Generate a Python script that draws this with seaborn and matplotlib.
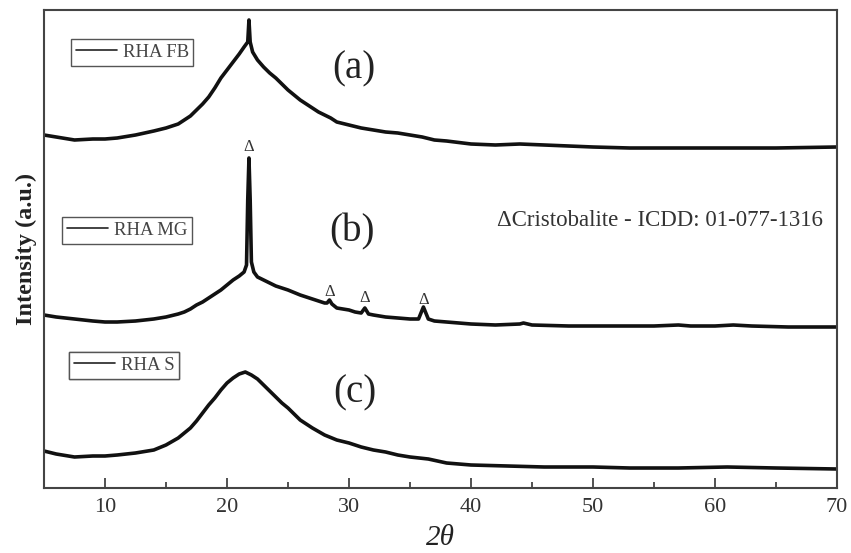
import matplotlib
matplotlib.use("Agg")
import matplotlib.pyplot as plt
import seaborn as sns
import pandas as pd
from matplotlib.lines import Line2D

# ---- data (2-theta, intensity in arbitrary units) ----
a_x = [5, 6, 7.5, 9, 10, 11, 12.5, 14, 15, 16, 16.5, 17, 17.5, 18, 18.5, 19, 19.5, 20, 20.5, 21,
       21.4, 21.7, 21.8, 21.9, 22.1, 22.5, 23, 23.5, 24, 24.5, 25, 25.5, 26, 26.5, 27.5, 28.5, 29,
       30, 31, 32, 33, 34, 35, 36, 37, 38, 40, 42, 44, 46, 48, 50, 53, 56, 60, 65, 70]
a_px = [135, 137, 140, 139, 139, 138, 135, 131, 128, 124, 120, 116, 110, 104, 97, 88, 78, 70, 62, 54,
        47, 42, 20, 42, 52, 60, 67, 73, 78, 84, 90, 95, 100, 104, 112, 118, 122,
        125, 128, 130, 132, 133, 135, 137, 140, 141, 144, 145, 144, 145, 146, 147, 148, 148, 148, 148, 147]

b_x = [5, 6, 7.5, 9, 10, 11, 12.5, 14, 15, 16, 16.5, 17, 17.5, 18, 18.5, 19, 19.5, 20, 20.5, 21,
       21.4, 21.6, 21.7, 21.8, 21.9, 22.0, 22.2, 22.5, 23, 23.5, 24, 25, 26, 26.5, 27, 28, 28.2,
       28.4, 28.6, 29, 30, 30.5, 31, 31.3, 31.6, 32, 33, 34, 35, 35.7, 36.1, 36.5, 37, 38, 40, 42,
       44, 44.3, 45, 48, 50, 52, 55, 57, 58, 60, 61.5, 63, 66, 70]
b_px = [315, 317, 319, 321, 322, 322, 321, 319, 317, 314, 312, 309, 305, 302, 298, 294, 290, 285, 280, 276,
        272, 265, 200, 158, 200, 262, 272, 277, 280, 283, 286, 290, 295, 297, 299, 303, 303,
        300, 304, 308, 310, 312, 313, 308, 314, 315, 317, 318, 319, 319, 307, 319, 321, 322, 324, 325,
        324, 323, 325, 326, 326, 326, 326, 325, 326, 326, 325, 326, 327, 327]

c_x = [5, 6, 7.5, 9, 10, 11, 12.5, 14, 15, 16, 17, 17.5, 18, 18.5, 19, 19.5, 20, 20.5, 21, 21.5,
       22, 22.5, 23, 23.5, 24, 24.5, 25, 25.5, 26, 26.5, 27, 28, 29, 30, 31, 32, 33, 34, 35, 36.5,
       38, 40, 43, 46, 50, 53, 57, 61, 65, 70]
c_px = [451, 454, 457, 456, 456, 455, 453, 450, 445, 438, 428, 421, 413, 405, 398, 390, 383, 378, 374, 372,
        375, 379, 385, 391, 397, 403, 408, 414, 420, 424, 428, 435, 440, 443, 447, 450, 452, 455, 457, 459,
        463, 465, 466, 467, 467, 468, 468, 467, 468, 469]

labels = ["RHA FB", "RHA MG", "RHA S"]
panel_tags = ["(a)", "(b)", "(c)"]
peak_pos = [21.8, 28.4, 31.3, 36.1]
peak_px = [147, 292, 298, 300]
x_ticks = [10, 20, 30, 40, 50, 60, 70]

BASE = 488  # intensity = BASE - pixel row

def to_int(vals):
    return [BASE - v for v in vals]

sns.set_style("ticks")
plt.rcParams['font.family'] = ['Liberation Serif', 'DejaVu Serif']
plt.rcParams['mathtext.fontset'] = 'stix'

W, H = 851, 553
fig = plt.figure(figsize=(W / 100, H / 100), dpi=100)
ax = fig.add_axes([44 / W, 1 - 488 / H, (837 - 44) / W, (488 - 10) / H])

for xs, ys, lab in [(a_x, a_px, labels[0]), (b_x, b_px, labels[1]), (c_x, c_px, labels[2])]:
    df = pd.DataFrame({"two_theta": xs, "intensity": to_int(ys)})
    sns.lineplot(data=df, x="two_theta", y="intensity", ax=ax, color="#111111",
                 linewidth=2.6, sort=False, estimator=None)

ax.set_xlim(5, 70)
ax.set_ylim(0, 478)
ax.set_yticks([])
ax.set_xticks(x_ticks)
ax.set_xticklabels([str(t) for t in x_ticks], fontsize=16, color="#333333")
ax.set_xticks([15, 25, 35, 45, 55, 65], minor=True)
ax.tick_params(axis='x', which='major', direction='in', length=7, width=1.2, color="#333333", pad=7)
ax.tick_params(axis='x', which='minor', direction='in', length=4, width=1.2, color="#333333")
for s in ax.spines.values():
    s.set_visible(True)
    s.set_linewidth(1.5)
    s.set_color("#444444")

ax.set_xlabel("2θ", fontsize=21, style='italic', color="#222222", labelpad=6)
ax.set_ylabel("Intensity (a.u.)", fontsize=17.5, fontweight='bold', color="#222222", labelpad=5)

# legends (one boxed legend per pattern)
leg_pos = [(71, 39), (62, 217), (69, 352)]
for lab, (lx, ly) in zip(labels, leg_pos):
    h = Line2D([], [], color="#222222", linewidth=1.2)
    leg = ax.legend(handles=[h], labels=[lab], loc='upper left',
                    bbox_to_anchor=(lx / W, 1 - ly / H), bbox_transform=fig.transFigure,
                    borderaxespad=0, borderpad=0.25, handlelength=2.2, handletextpad=0.3,
                    fancybox=False, framealpha=1, edgecolor="#555555",
                    prop={'family': 'Liberation Serif', 'size': 13.5})
    leg.get_frame().set_linewidth(1.0)
    for t in leg.get_texts():
        t.set_color("#444444")
    ax.add_artist(leg)

# panel tags
tag_pos = [(354, 69), (352, 232), (355, 393)]
for tag, (tx, ty) in zip(panel_tags, tag_pos):
    fig.text(tx / W, 1 - ty / H, tag, fontsize=28, ha='center', va='center', color="#222222")

# cristobalite markers
for px, py in zip(peak_pos, peak_px):
    ax.text(px, BASE - py, "Δ", fontsize=12, ha='center', va='center', color="#333333")

fig.text(823 / W, 1 - 220 / H, "ΔCristobalite - ICDD: 01-077-1316", fontsize=16.5,
         ha='right', va='center', color="#333333")

fig.savefig("out.png", dpi=100)
